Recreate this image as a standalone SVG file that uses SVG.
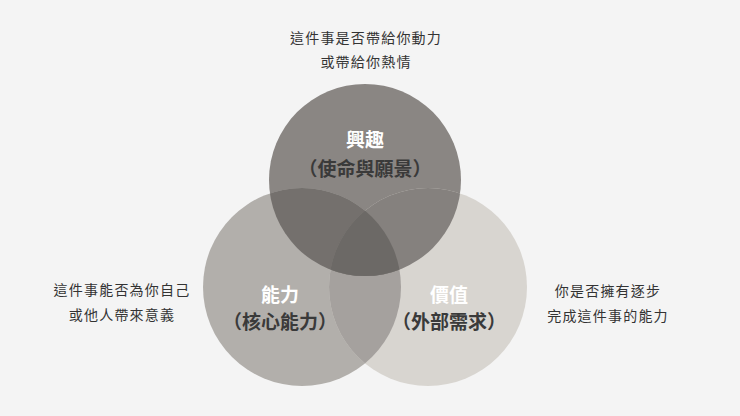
<svg xmlns="http://www.w3.org/2000/svg" width="740" height="416" viewBox="0 0 740 416">
<style>
.desc{font-family:"Noto Sans CJK TC","Noto Sans CJK SC",sans-serif;font-size:14px;fill:#333;letter-spacing:1.2px;text-anchor:middle}
.title{font-family:"Noto Sans CJK TC","Noto Sans CJK SC",sans-serif;font-size:19px;font-weight:700;fill:#fff;text-anchor:middle}
.sub{font-family:"Noto Sans CJK TC","Noto Sans CJK SC",sans-serif;font-size:19px;font-weight:700;fill:#3a3a3a;text-anchor:middle}
</style>
<defs>
<clipPath id="cL"><circle cx="302" cy="287" r="99"/></clipPath>
<clipPath id="cR"><circle cx="428" cy="287" r="99"/></clipPath>
</defs>
<rect width="740" height="416" fill="#f4f4f4"/>
<g id="desc-top">
<text class="desc" x="366" y="43">這件事是否帶給你動力</text>
<text class="desc" x="366" y="67">或帶給你熱情</text>
</g>
<g id="desc-left">
<text class="desc" x="122" y="295">這件事能否為你自己</text>
<text class="desc" x="122" y="320">或他人帶來意義</text>
</g>
<g id="desc-right">
<text class="desc" x="608" y="296">你是否擁有逐步</text>
<text class="desc" x="608" y="321">完成這件事的能力</text>
</g>
<g id="node-interest">
<circle cx="365" cy="180" r="96" fill="#8a8683"/>
</g>
<g id="node-ability">
<circle cx="302" cy="287" r="99" fill="#b2afab"/>
</g>
<g id="node-value">
<circle cx="428" cy="287" r="99" fill="#d8d5d0"/>
</g>
<g id="overlaps">
<circle cx="302" cy="287" r="99" fill="#a5a19e" clip-path="url(#cR)"/>
<circle cx="365" cy="180" r="96" fill="#74706d" clip-path="url(#cL)"/>
<circle cx="365" cy="180" r="96" fill="#85817e" clip-path="url(#cR)"/>
<g clip-path="url(#cL)"><circle cx="365" cy="180" r="96" fill="#6c6966" clip-path="url(#cR)"/></g>
</g>
<g id="labels">
<text class="title" x="365" y="147">興趣</text>
<text class="sub" x="365" y="176">（使命與願景）</text>
<text class="title" x="280" y="302">能力</text>
<text class="sub" x="280" y="329">（核心能力）</text>
<text class="title" x="449" y="302">價值</text>
<text class="sub" x="449" y="329">（外部需求）</text>
</g>
</svg>
